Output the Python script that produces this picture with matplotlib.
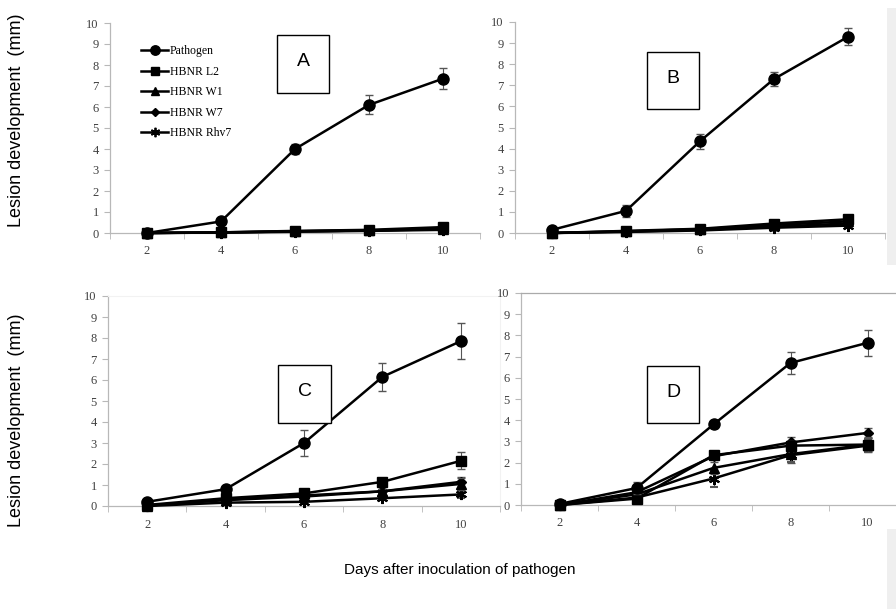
import matplotlib
matplotlib.use("Agg")
import matplotlib.pyplot as plt
from matplotlib.patches import Rectangle
from matplotlib.lines import Line2D

W, H = 896, 609
days = ["2", "4", "6", "8", "10"]
series_names = ["Pathogen", "HBNR L2", "HBNR W1", "HBNR W7", "HBNR Rhv7"]
panel_letters = ["A", "B", "C", "D"]

# Panel A
a_pathogen = [0.0, 0.55, 4.0, 6.1, 7.35]
a_pathogen_err = [0.0, 0.12, 0.25, 0.45, 0.5]
a_l2 = [0.0, 0.03, 0.1, 0.15, 0.28]
a_w1 = [0.0, 0.03, 0.08, 0.12, 0.2]
a_w7 = [0.0, 0.02, 0.08, 0.12, 0.18]
a_rhv7 = [0.0, 0.02, 0.06, 0.1, 0.15]
a_small_err = [0.0, 0.02, 0.03, 0.04, 0.05]

# Panel B
b_pathogen = [0.15, 1.05, 4.35, 7.3, 9.3]
b_pathogen_err = [0.05, 0.3, 0.35, 0.35, 0.4]
b_l2 = [0.0, 0.1, 0.2, 0.45, 0.65]
b_w1 = [0.0, 0.08, 0.18, 0.38, 0.55]
b_w7 = [0.0, 0.07, 0.15, 0.3, 0.45]
b_rhv7 = [0.0, 0.05, 0.12, 0.25, 0.35]
b_small_err = [0.0, 0.03, 0.05, 0.08, 0.1]

# Panel C
c_pathogen = [0.2, 0.8, 3.0, 6.15, 7.85]
c_pathogen_err = [0.05, 0.15, 0.6, 0.65, 0.85]
c_l2 = [0.05, 0.37, 0.6, 1.15, 2.15]
c_l2_err = [0.02, 0.05, 0.1, 0.15, 0.4]
c_w1 = [0.02, 0.3, 0.5, 0.7, 1.05]
c_w1_err = [0.02, 0.05, 0.08, 0.1, 0.3]
c_w7 = [0.02, 0.28, 0.45, 0.7, 1.15]
c_w7_err = [0.02, 0.05, 0.08, 0.1, 0.25]
c_rhv7 = [0.0, 0.16, 0.2, 0.37, 0.55]
c_rhv7_err = [0.0, 0.05, 0.08, 0.1, 0.15]

# Panel D
d_pathogen = [0.05, 0.8, 3.8, 6.7, 7.65]
d_pathogen_err = [0.05, 0.3, 0.15, 0.5, 0.6]
d_l2 = [0.0, 0.3, 2.35, 2.8, 2.85]
d_l2_err = [0.0, 0.05, 0.1, 0.2, 0.35]
d_w1 = [0.0, 0.5, 1.75, 2.4, 2.85]
d_w1_err = [0.0, 0.1, 0.3, 0.4, 0.3]
d_w7 = [0.0, 0.6, 2.3, 2.95, 3.4]
d_w7_err = [0.0, 0.1, 0.1, 0.25, 0.25]
d_rhv7 = [0.0, 0.35, 1.25, 2.35, 2.8]
d_rhv7_err = [0.0, 0.1, 0.4, 0.3, 0.3]

panels = [
    [(a_pathogen, a_pathogen_err), (a_l2, a_small_err), (a_w1, a_small_err), (a_w7, a_small_err), (a_rhv7, a_small_err)],
    [(b_pathogen, b_pathogen_err), (b_l2, b_small_err), (b_w1, b_small_err), (b_w7, b_small_err), (b_rhv7, b_small_err)],
    [(c_pathogen, c_pathogen_err), (c_l2, c_l2_err), (c_w1, c_w1_err), (c_w7, c_w7_err), (c_rhv7, c_rhv7_err)],
    [(d_pathogen, d_pathogen_err), (d_l2, d_l2_err), (d_w1, d_w1_err), (d_w7, d_w7_err), (d_rhv7, d_rhv7_err)],
]

markers = ["o", "s", "^", "D", (6, 2, 0)]
msizes = [8, 7.5, 6.5, 5, 8]

fig = plt.figure(figsize=(W / 100, H / 100), dpi=100)
fig.patch.set_facecolor("white")

def px_axes(l, r, b, t):
    return fig.add_axes([l / W, (H - b) / H, (r - l) / W, (b - t) / H])

# pixel boxes (left, right, bottom, top)
boxes = [(110, 480, 233, 23), (515, 885, 233, 22), (108, 500, 506, 296), (521, 906, 505, 293)]
letter_boxes = [(277, 329, 35, 93), (647, 699, 52, 109), (278, 331, 365, 423), (647, 699, 366, 423)]

# light gray background bands (page artefacts)
fig.add_artist(Rectangle((887 / W, (H - 265) / H), 9 / W, 257 / H, transform=fig.transFigure,
                         facecolor="#efefef", edgecolor="none", zorder=0))
fig.add_artist(Rectangle((887 / W, 0), 9 / W, 80 / H, transform=fig.transFigure,
                         facecolor="#efefef", edgecolor="none", zorder=0))

axis_gray = "#b8b8b8"
serif = "Liberation Serif"
sans = "Liberation Sans"
x = list(range(len(days)))

for i, (box, data) in enumerate(zip(boxes, panels)):
    ax = px_axes(*box)
    ax.set_facecolor("none")
    for k, ((vals, errs), m, ms) in enumerate(zip(data, markers, msizes)):
        ax.errorbar(x, vals, yerr=errs, color="black", lw=1.8, marker=m, ms=ms,
                    mew=1.5 if k == 4 else 1, ecolor="#555555", elinewidth=0.8,
                    capsize=3, capthick=0.8, clip_on=False, zorder=3 + (4 - k))
    ax.set_xlim(-0.5, 4.5)
    ax.set_ylim(0, 10)
    ax.set_yticks(range(0, 11))
    ax.set_xticks(x)
    ax.set_xticklabels(days)
    ax.set_xticks([-0.5, 0.5, 1.5, 2.5, 3.5, 4.5], minor=True)
    ax.tick_params(axis="x", which="major", length=0, pad=9, labelsize=9, labelcolor="#404040")
    ax.tick_params(axis="x", which="minor", length=4, color=axis_gray, direction="out")
    ax.tick_params(axis="y", length=4, color=axis_gray, labelsize=9, labelcolor="#404040", pad=4)
    for lab in ax.get_xticklabels() + ax.get_yticklabels():
        lab.set_fontfamily(serif)
    for s in ["left", "bottom"]:
        ax.spines[s].set_color(axis_gray)
        ax.spines[s].set_linewidth(0.9)
    if i == 3:
        ax.spines["top"].set_color("#aaaaaa")
        ax.spines["top"].set_linewidth(0.9)
        ax.spines["right"].set_visible(False)
    elif i == 2:
        ax.spines["top"].set_color("#f2f2f2")
        ax.spines["right"].set_color("#f2f2f2")
    else:
        ax.spines["top"].set_visible(False)
        ax.spines["right"].set_visible(False)

    if i == 0:
        handles = [Line2D([0], [0], color="black", lw=1.8, marker=m, ms=ms * 0.85,
                          mew=1.3 if k == 4 else 1)
                   for k, (m, ms) in enumerate(zip(markers, msizes))]
        ax.legend(handles, series_names, loc="upper left", bbox_to_anchor=(0.055, 0.945),
                  frameon=False, handlelength=2.3, handletextpad=0.15,
                  labelspacing=0.72, prop={"family": serif, "size": 8.5})

    # letter box
    l, r, t, b = letter_boxes[i]
    fig.add_artist(Rectangle((l / W, (H - b) / H), (r - l) / W, (b - t) / H,
                             transform=fig.transFigure, facecolor="white",
                             edgecolor="black", lw=1.0, zorder=10))
    fig.text((l + r) / 2 / W, (H - (t + b) / 2 + 2) / H, panel_letters[i],
             ha="center", va="center", fontsize=14, family=sans, zorder=11)

# axis titles
fig.text(17 / W, (H - 120) / H, "Lesion development  (mm)", rotation=90,
         ha="center", va="center", fontsize=13, family=sans)
fig.text(17 / W, (H - 420) / H, "Lesion development  (mm)", rotation=90,
         ha="center", va="center", fontsize=13, family=sans)
fig.text(460 / W, (H - 570) / H, "Days after inoculation of pathogen",
         ha="center", va="center", fontsize=11, family=sans)

fig.savefig("out.png", dpi=100)
